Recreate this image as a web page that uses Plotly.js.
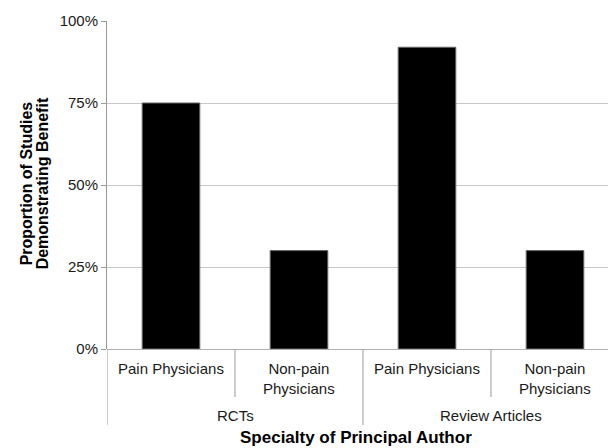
<!DOCTYPE html>
<html>
<head>
<meta charset="utf-8">
<script src="https://cdn.plot.ly/plotly-3.0.1.min.js"></script>
<style>html,body{margin:0;padding:0;background:#fff;}#chart{width:608px;height:448px;}</style>
</head>
<body>
<div id="chart"></div>
<script>
// Data
var categories = ["Pain Physicians", "Non-pain<br>Physicians", "Pain Physicians", "Non-pain<br>Physicians"];
var groups = ["RCTs", "Review Articles"];
var groupSizes = [2, 2];
var values = [0.75, 0.30, 0.92, 0.30];
var yTickVals = [0, 0.25, 0.5, 0.75, 1];
var yTitleLines = ["Proportion of Studies", "Demonstrating Benefit"];
var xTitle = "Specialty of Principal Author";

var FONT = "Liberation Sans, Arial, Helvetica, sans-serif";
var plotH = 328;

var xIdx = categories.map(function (c, i) { return i; });

var trace = {
  type: "bar",
  x: xIdx,
  y: values,
  width: 0.45,
  marker: { color: "#000000", line: { color: "#666666", width: 1 } },
  hoverinfo: "none"
};

var annotations = [];
var shapes = [];

// category labels
categories.forEach(function (c, i) {
  annotations.push({
    xref: "x", yref: "paper", x: i, y: 0,
    text: c, showarrow: false, xanchor: "center", yanchor: "top",
    yshift: -9, align: "center",
    font: { family: FONT, size: 15, color: "#1a1a1a" }
  });
});

// group labels and dividers
var start = 0;
groups.forEach(function (g, gi) {
  var n = groupSizes[gi];
  var center = start + (n - 1) / 2;
  annotations.push({
    xref: "x", yref: "paper", x: center, y: 0,
    text: g, showarrow: false, xanchor: "center", yanchor: "middle",
    yshift: -66,
    font: { family: FONT, size: 15, color: "#1a1a1a" }
  });
  shapes.push({
    type: "line", xref: "x", yref: "paper",
    x0: start - 0.5, x1: start - 0.5, y0: 0, y1: -76 / plotH,
    line: { color: "#999999", width: 1 }
  });
  for (var k = 1; k < n; k++) {
    shapes.push({
      type: "line", xref: "x", yref: "paper",
      x0: start + k - 0.5, x1: start + k - 0.5, y0: 0, y1: -48 / plotH,
      line: { color: "#999999", width: 1 }
    });
  }
  start += n;
});
shapes.push({
  type: "line", xref: "x", yref: "paper",
  x0: start - 0.5, x1: start - 0.5, y0: 0, y1: -48 / plotH,
  line: { color: "#999999", width: 1 }
});

// axis titles
annotations.push({
  xref: "paper", yref: "paper", x: 0.5, y: 0, xshift: -2,
  text: "<b>" + xTitle + "</b>", showarrow: false,
  xanchor: "center", yanchor: "middle", yshift: -88,
  font: { family: FONT, size: 17, color: "#000" }
});
yTitleLines.forEach(function (t, i) {
  annotations.push({
    xref: "paper", yref: "paper", x: 0, y: 0.505,
    xshift: -81 + i * 16,
    text: "<b>" + t + "</b>", showarrow: false, textangle: -90,
    xanchor: "center", yanchor: "middle",
    font: { family: FONT, size: 16, color: "#000" }
  });
});

var layout = {
  width: 608, height: 448,
  margin: { l: 107, r: 0, t: 21, b: 99, pad: 0 },
  paper_bgcolor: "#ffffff", plot_bgcolor: "#ffffff",
  showlegend: false,
  xaxis: {
    range: [-0.5, 3.414], showticklabels: false, showgrid: false,
    zeroline: false, showline: false, ticks: "", fixedrange: true
  },
  yaxis: {
    range: [0, 1], tickvals: yTickVals, tickformat: ".0%",
    showgrid: true, gridcolor: "#c8c8c8", gridwidth: 1,
    showline: true, linecolor: "#999999", linewidth: 1,
    ticks: "outside", ticklen: 5, tickcolor: "#999999",
    zeroline: true, zerolinecolor: "#b0b0b0", zerolinewidth: 1,
    tickfont: { family: FONT, size: 15, color: "#1a1a1a" },
    fixedrange: true
  },
  annotations: annotations,
  shapes: shapes
};

Plotly.newPlot("chart", [trace], layout, { displayModeBar: false, staticPlot: true });
</script>
</body>
</html>
